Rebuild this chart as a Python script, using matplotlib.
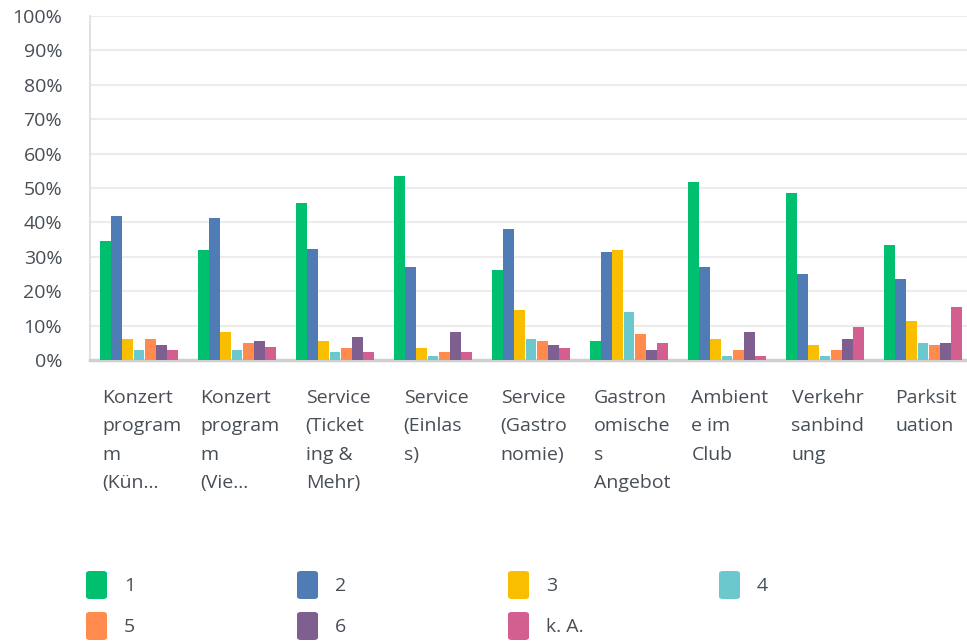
import matplotlib
matplotlib.use("Agg")
import matplotlib.pyplot as plt
from matplotlib.patches import FancyBboxPatch
import numpy as np

plt.rcParams['font.family'] = ['Open Sans', 'DejaVu Sans']

categories = [
    "Konzert\nprogram\nm\n(Kün...",
    "Konzert\nprogram\nm\n(Vie...",
    "Service\n(Ticket\ning &\nMehr)",
    "Service\n(Einlas\ns)",
    "Service\n(Gastro\nnomie)",
    "Gastron\nomische\ns\nAngebot",
    "Ambient\ne im\nClub",
    "Verkehr\nsanbind\nung",
    "Parksit\nuation",
]
series_names = ["1", "2", "3", "4", "5", "6", "k. A."]
s1 = [34.6, 32.0, 45.6, 53.5, 26.2, 5.6, 51.7, 48.5, 33.4]
s2 = [41.9, 41.3, 32.3, 27.0, 38.1, 31.4, 27.0, 25.0, 23.5]
s3 = [6.1, 8.1, 5.6, 3.5, 14.5, 32.0, 6.1, 4.4, 11.3]
s4 = [2.9, 2.9, 2.3, 1.2, 6.1, 14.0, 1.2, 1.2, 5.0]
s5 = [6.1, 5.0, 3.5, 2.3, 5.6, 7.6, 2.9, 2.9, 4.4]
s6 = [4.4, 5.6, 6.7, 8.1, 4.4, 2.9, 8.1, 6.1, 5.0]
s_ka = [2.9, 3.8, 2.3, 2.3, 3.5, 5.0, 1.2, 9.6, 15.4]
series = [s1, s2, s3, s4, s5, s6, s_ka]
colors = ["#00BF6F", "#507CB6", "#F9BE00", "#6BC8CD", "#FF8B4F", "#7F5F90", "#D25F90"]
yticks = [0, 10, 20, 30, 40, 50, 60, 70, 80, 90, 100]

TXT = "#474e56"
W, H = 967, 641
fig = plt.figure(figsize=(W / 100, H / 100), dpi=100)
left, right, top, bottom = 90, 972, 16, 360
ax = fig.add_axes([left / W, 1 - bottom / H, (right - left) / W, (bottom - top) / H])

n = len(series)
x = np.arange(len(categories))
bw = 0.8 / n
for k, (vals, c) in enumerate(zip(series, colors)):
    ax.bar(x - 0.4 + bw * (k + 0.5), vals, width=bw * 0.97, color=c, zorder=3, linewidth=0)

ax.set_xlim(-0.5, len(categories) - 0.5)
ax.set_ylim(0, 100)
ax.set_yticks(yticks)
ax.set_yticklabels([f"{v}%" for v in yticks], fontsize=14, color=TXT)
ax.tick_params(axis='y', length=0, pad=20)
ax.tick_params(axis='x', length=0, labelbottom=False)
ax.grid(axis='y', color="#ececec", linewidth=1.5, zorder=0)
for s in ["top", "right"]:
    ax.spines[s].set_visible(False)
ax.spines["left"].set_color("#dcdcdc")
ax.spines["left"].set_linewidth(1.2)
ax.spines["bottom"].set_color("#d0d0d0")
ax.spines["bottom"].set_linewidth(2.5)

for i, cat in enumerate(categories):
    ax.annotate(cat, xy=(i, 0), xycoords=('data', 'axes fraction'),
                xytext=(3, -29), textcoords='offset pixels', ha='center', va='top',
                multialignment='left',
                fontsize=14, color=TXT, linespacing=1.74)

# legend
leg_cols = [86, 297, 508, 719]
leg_rows = [585, 626]
for k, (name, c) in enumerate(zip(series_names, colors)):
    cx = leg_cols[k % 4]
    cy = leg_rows[k // 4]
    sq = FancyBboxPatch(((cx) / W, 1 - (cy + 14) / H), 21 / W, 28 / H,
                        boxstyle="round,pad=0,rounding_size=0.004",
                        transform=fig.transFigure, facecolor=c, edgecolor='none')
    fig.patches.append(sq)
    fig.text((cx + 38) / W, 1 - (cy + 1) / H, name, ha='left', va='center',
             fontsize=14, color=TXT)

fig.savefig("out.png", dpi=100)
